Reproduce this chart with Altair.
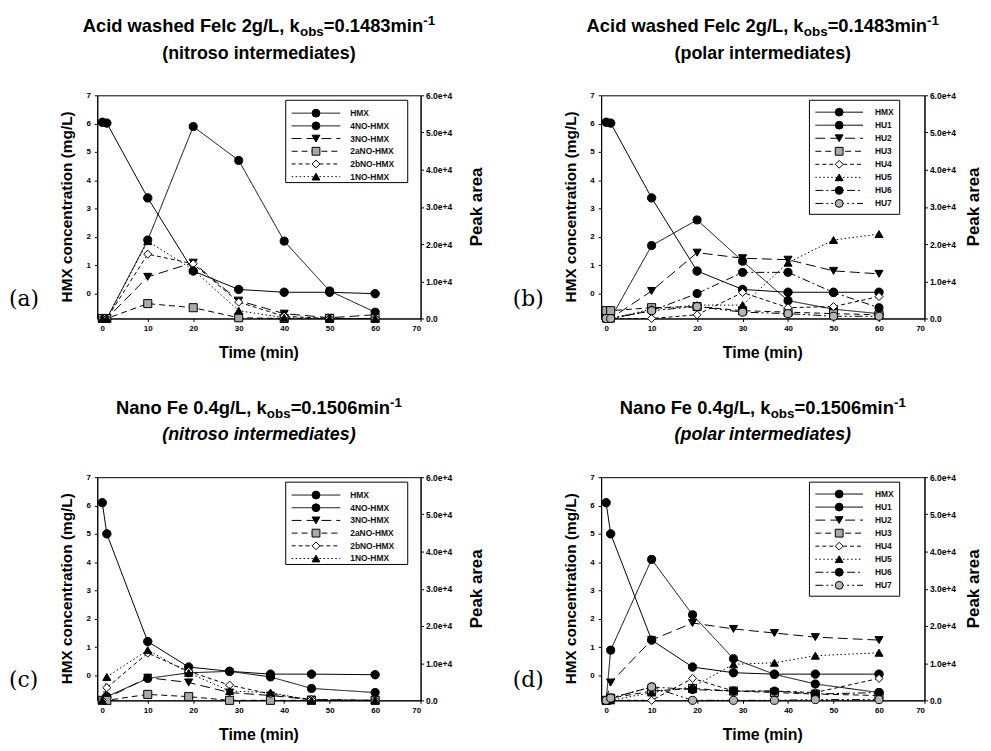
import altair as alt
import pandas as pd

# ---------------- data ----------------
t_acid = [0, 1, 10, 20, 30, 40, 50, 60]
t_nano = [0, 1, 10, 19, 28, 37, 46, 60]

# HMX concentration (mg/L, left axis)
hmx_a = [6.05, 6.02, 3.38, 0.80, 0.15, 0.05, 0.05, 0.00]
hmx_b = [6.05, 6.02, 3.38, 0.80, 0.15, 0.05, 0.05, 0.05]
hmx_c = [6.10, 5.00, 1.20, 0.30, 0.15, 0.05, 0.05, 0.03]
hmx_d = [6.10, 5.00, 1.25, 0.30, 0.10, 0.05, 0.05, 0.05]

nitroso_names = ["4NO-HMX", "3NO-HMX", "2aNO-HMX", "2bNO-HMX", "1NO-HMX"]
polar_names = ["HU1", "HU2", "HU3", "HU4", "HU5", "HU6", "HU7"]

# (a) Acid washed Felc, nitroso intermediates (peak area, right axis)
a_4no = [0, 0, 21100, 51600, 42500, 20800, 7400, 1700]
a_3no = [0, 0, 11200, 15000, 4800, 1300, 200, 1000]
a_2ano = [0, 0, 4000, 2900, 200, 0, 0, 0]
a_2bno = [0, 0, 17300, 14700, 4400, 600, 0, 0]
a_1no = [0, 0, 20800, 13100, 2100, 200, 0, 0]

# (b) Acid washed Felc, polar intermediates
b_hu1 = [0, 0, 19600, 26500, 15400, 4800, 2500, 1300]
b_hu2 = [0, 0, 7400, 17700, 16200, 15800, 12800, 12000]
b_hu3 = [2100, 2100, 2900, 3200, 2100, 1700, 1300, 1000]
b_hu4 = [0, 0, 0, 1000, 7000, 2900, 3200, 5900]
b_hu5 = [0, 0, 2500, 3600, 3600, 15000, 21100, 22700]
b_hu6 = [0, 0, 2100, 6700, 12400, 12400, 7000, 2900]
b_hu7 = [0, 0, 2100, 3200, 1700, 1300, 600, 600]

# (c) Nano Fe, nitroso intermediates
c_4no = [0, 1000, 5900, 7400, 7800, 6300, 3200, 2100]
c_3no = [0, 600, 6100, 4800, 2100, 1300, 200, 0]
c_2ano = [0, 0, 1600, 1000, 0, 0, 0, 0]
c_2bno = [0, 3400, 12700, 7800, 4100, 1700, 200, 0]
c_1no = [0, 6300, 13500, 7400, 2500, 2100, 0, 0]

# (d) Nano Fe, polar intermediates
d_hu1 = [0, 13500, 37900, 23000, 11200, 7000, 4400, 2100]
d_hu2 = [0, 4800, 16200, 20800, 19200, 18100, 17000, 16200]
d_hu3 = [0, 600, 2500, 3200, 2500, 2100, 1700, 1300]
d_hu4 = [0, 0, 0, 5900, 2500, 2500, 2100, 5900]
d_hu5 = [0, 0, 2100, 3600, 9700, 10100, 12000, 12800]
d_hu6 = [0, 600, 3600, 2900, 2500, 2500, 1700, 2100]
d_hu7 = [0, 600, 3600, 0, 0, 0, 200, 200]

x_ticks = [0, 10, 20, 30, 40, 50, 60, 70]
left_ticks = [0, 1, 2, 3, 4, 5, 6, 7]
right_ticks = [0, 10000, 20000, 30000, 40000, 50000, 60000]

# ---------------- styling ----------------
FONT = "Liberation Sans"
W, H = 326, 225

SERIES = ["HMX"] + nitroso_names + polar_names
SHAPES = ["circle", "circle", "triangle-down", "square", "diamond", "triangle-up",
          "circle", "triangle-down", "square", "diamond", "triangle-up", "circle", "circle"]
FILLS = ["black", "black", "black", "#a9a9a9", "white", "black",
         "black", "black", "#a9a9a9", "white", "black", "black", "#b4b4b4"]
DASHES = [[1, 0], [1, 0], [10, 5], [6, 4], [4, 3], [1.5, 2.5],
          [1, 0], [10, 5], [6, 4], [4, 3], [1.5, 2.5], [8, 3, 2, 3], [8, 3, 2, 3, 2, 3]]

SH = alt.Shape("series:N", scale=alt.Scale(domain=SERIES, range=SHAPES), legend=None)
FI = alt.Fill("series:N", scale=alt.Scale(domain=SERIES, range=FILLS), legend=None)
SD = alt.StrokeDash("series:N", scale=alt.Scale(domain=SERIES, range=DASHES), legend=None)

X = alt.X("t:Q", scale=alt.Scale(domain=[-1.1, 70], nice=False, zero=False),
          axis=alt.Axis(values=x_ticks, title=None, format="d", tickSize=3, labelPadding=3))
YL = alt.Y("conc:Q", scale=alt.Scale(domain=[-0.875, 7], nice=False, zero=False),
           axis=alt.Axis(orient="left", values=left_ticks, title=None, format="d",
                         tickSize=3, labelPadding=4))
YR = alt.Y("area:Q", scale=alt.Scale(domain=[0, 60000], nice=False, zero=False),
           axis=alt.Axis(orient="right", values=right_ticks, title=None, tickSize=3, labelPadding=2,
                         labelFontSize=8.5,
                         labelExpr="datum.value == 0 ? '0.0' : format(datum.value, '.1e')"))

# Arial/Liberation Sans Bold advance widths (per 1000 em)
AW = {" ": 278, ",": 278, "-": 333, ".": 278, "/": 278, "=": 584, "A": 722, "F": 611,
      "L": 611, "N": 722, "a": 556, "b": 611, "c": 556, "d": 611, "e": 556, "g": 611,
      "h": 611, "i": 278, "k": 556, "l": 278, "m": 889, "n": 611, "o": 611, "s": 556,
      "w": 778}


def tw(s, size):
    return sum(AW.get(ch, 556) for ch in s) * size / 1000.0


ONE = pd.DataFrame({"k": [0]})


def txt(text, x, y, size, weight="bold", style="normal", align="left", baseline="alphabetic",
        angle=0, font=FONT):
    kw = dict(align=align, baseline=baseline, fontSize=size, fontWeight=weight,
              fontStyle=style, font=font, color="black")
    if angle:
        kw["angle"] = angle
    return alt.Chart(ONE).mark_text(**kw).encode(
        x=alt.value(x), y=alt.value(y), text=alt.value(text))


def panel(times, hmx, inter, names, label, prefix, kval, line2, italic, leg, right_title_x):
    df_h = pd.DataFrame({"t": times, "conc": hmx, "series": ["HMX"] * len(times)})
    rows = []
    for n, vals in zip(names, inter):
        for t, v in zip(times, vals):
            rows.append({"t": t, "area": v, "series": n})
    df_i = pd.DataFrame(rows)

    h_line = alt.Chart(df_h).mark_line(color="black", strokeWidth=1).encode(x=X, y=YL)
    h_pts = alt.Chart(df_h).mark_point(filled=True, size=72, opacity=1, stroke="black",
                                       strokeWidth=1).encode(x=X, y=YL, shape=SH, fill=FI)
    h_layer = alt.layer(h_line, h_pts)

    i_line = alt.Chart(df_i).mark_line(color="black", strokeWidth=1).encode(
        x=X, y=YR, strokeDash=SD, detail="series:N")
    i_pts = alt.Chart(df_i).mark_point(filled=True, size=66, opacity=1, stroke="black",
                                       strokeWidth=1).encode(x=X, y=YR, shape=SH, fill=FI)
    i_layer = alt.layer(i_line, i_pts)

    # legend
    lnames = ["HMX"] + names
    df_l = pd.DataFrame({"series": lnames})
    yl = alt.Y("series:N", scale=alt.Scale(type="point", domain=lnames,
                                            range=[leg["y0"], leg["y1"]], padding=0), axis=None)
    box = alt.Chart(ONE).mark_rect(fill="white", stroke="black", strokeWidth=1).encode(
        x=alt.value(leg["bx1"]), x2=alt.value(leg["bx2"]),
        y=alt.value(leg["by1"]), y2=alt.value(leg["by2"]))
    seg = alt.Chart(df_l).mark_rule(color="black", strokeWidth=1).encode(
        x=alt.value(leg["lx1"]), x2=alt.value(leg["lx2"]), y=yl, strokeDash=SD)
    mk = alt.Chart(df_l).mark_point(filled=True, size=62, opacity=1, stroke="black",
                                    strokeWidth=1).encode(
        x=alt.value((leg["lx1"] + leg["lx2"]) / 2), y=yl, shape=SH, fill=FI)
    lt = alt.Chart(df_l).mark_text(align="left", baseline="middle", fontSize=8.5, font=FONT,
                                   fontWeight="bold", color="#111111").encode(
        x=alt.value(leg["tx"]), y=yl, text="series:N")
    l_layer = alt.layer(box, seg, mk, lt)

    # title with subscript / superscript
    BIG, SMALL = 18.5, 13.5
    pieces = [(prefix, BIG, 0), ("obs", SMALL, 4), ("=" + kval + "min", BIG, 0), ("-1", SMALL, -7)]
    total = sum(tw(p, s) for p, s, _ in pieces)
    x = W / 2 - total / 2
    deco = []
    for p, s, dy in pieces:
        deco.append(txt(p, x, -64 + dy, s))
        x += tw(p, s)
    deco.append(txt(line2, W / 2, -37, 18, style="italic" if italic else "normal", align="center"))
    deco.append(txt(label, -89, 212, 22, weight="normal", font="DejaVu Serif"))
    deco.append(txt("HMX concentration (mg/L)", -22, H / 2, 15.5, align="center",
                    baseline="bottom", angle=270))
    deco.append(txt("Peak area", W + right_title_x, H / 2, 17, align="center",
                    baseline="bottom", angle=270))
    deco.append(txt("Time (min)", W / 2, H + 40, 16, align="center"))
    d_layer = alt.layer(*deco)

    return alt.layer(h_layer, i_layer, l_layer, d_layer).resolve_scale(
        y="independent").properties(width=W, height=H)


LEG_N = dict(bx1=190, bx2=313, by1=5, by2=88, y0=18, y1=82, lx1=196, lx2=245, tx=255)
LEG_P = dict(bx1=210, bx2=301, by1=5, by2=120, y0=17, y1=109, lx1=216, lx2=264, tx=276)

pa = panel(t_acid, hmx_a, [a_4no, a_3no, a_2ano, a_2bno, a_1no], nitroso_names, "(a)",
           "Acid washed Felc 2g/L, k", "0.1483", "(nitroso intermediates)", False, LEG_N, 66)
pb = panel(t_acid, hmx_b, [b_hu1, b_hu2, b_hu3, b_hu4, b_hu5, b_hu6, b_hu7], polar_names, "(b)",
           "Acid washed Felc 2g/L, k", "0.1483", "(polar intermediates)", False, LEG_P, 59)
pc = panel(t_nano, hmx_c, [c_4no, c_3no, c_2ano, c_2bno, c_1no], nitroso_names, "(c)",
           "Nano Fe 0.4g/L, k", "0.1506", "(nitroso intermediates)", True, LEG_N, 66)
pd_ = panel(t_nano, hmx_d, [d_hu1, d_hu2, d_hu3, d_hu4, d_hu5, d_hu6, d_hu7], polar_names, "(d)",
            "Nano Fe 0.4g/L, k", "0.1506", "(polar intermediates)", True, LEG_P, 59)

chart = alt.concat(pa, pb, pc, pd_, columns=2).properties(
    spacing={"row": 160, "column": 182}, bounds="flush",
    padding={"left": 0, "top": 2, "right": 0, "bottom": 0},
).configure_view(stroke="black", strokeWidth=1).configure_axis(
    grid=False, domainColor="black", tickColor="black", labelColor="black", labelFont=FONT,
    labelFontSize=8, labelFontWeight="bold", domainWidth=1, tickWidth=1)

chart.save("out.html", embed_options={"renderer": "svg", "actions": False})
